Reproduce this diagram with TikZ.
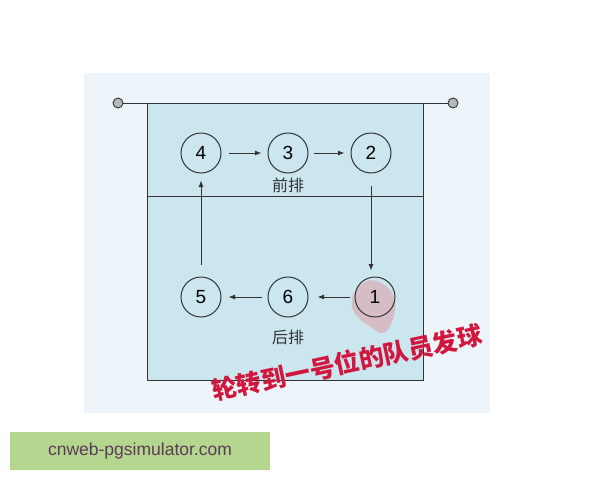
\documentclass[tikz,border=0pt]{standalone}
\usepackage{fontspec}
\setmainfont{Liberation Sans}
\newfontfamily\cjk{Noto Sans CJK SC}
\newfontfamily\cjkheavy{Noto Sans CJK SC Black}
\usetikzlibrary{arrows.meta,positioning}

\definecolor{panel}{HTML}{EDF5FA}
\definecolor{courtblue}{HTML}{CBE6EE}
\definecolor{linegray}{HTML}{333333}
\definecolor{postgray}{HTML}{B4B9BC}
\definecolor{slogan}{HTML}{D2173F}
\definecolor{smudge}{HTML}{E58A95}
\definecolor{wmgreen}{HTML}{B5D68E}
\definecolor{wmtext}{HTML}{5B3A58}

\tikzset{
	player/.style={circle, draw=linegray, line width=1pt, minimum size=40pt, inner sep=0pt, font=\fontsize{19}{19}\selectfont},
	flow/.style={-{Latex[length=6.5pt,width=5pt]}, draw=linegray, line width=0.9pt},
	rowlabel/.style={font=\cjk\fontsize{16}{16}\selectfont, text=linegray},
	post/.style={circle, draw=linegray, fill=postgray, line width=0.9pt, minimum size=10pt, inner sep=0pt}
}

\begin{document}
\begin{tikzpicture}[x=1pt,y=-1pt]
	\useasboundingbox (0,0) rectangle (600,480);
	\fill[white] (0,0) rectangle (600,480);
	\fill[panel] (84,73) rectangle (490,413);
	% court and net
	\draw[fill=courtblue, draw=linegray, line width=0.9pt] (147,103) rectangle (423,380);
	\draw[linegray, line width=0.9pt] (147,196) -- (423,196);
	\node[post] (postL) at (118,103) {};
	\node[post] (postR) at (453,103) {};
	\draw[linegray, line width=0.9pt] (postL) -- (postR);
	% smudge round 1
	\fill[smudge, opacity=0.45] (370,280) .. controls (392,282) and (398,300) .. (394,316)
		.. controls (390,330) and (384,336) .. (378,332)
		.. controls (368,324) and (356,320) .. (352,308)
		.. controls (350,294) and (358,284) .. (370,280);
	% players
	\node[player] (p4) at (201,153) {4};
	\node[player] (p3) at (288,153) {3};
	\node[player] (p2) at (371,153) {2};
	\node[player] (p5) at (201,297) {5};
	\node[player] (p6) at (288,297) {6};
	\node[player] (p1) at (375,297) {1};
	\node[rowlabel] (front) at (288,185) {前排};
	\node[rowlabel] (back) at (288,337) {后排};
	% rotation
	\draw[flow, shorten <=7pt, shorten >=6pt] (p4) -- (p3);
	\draw[flow, shorten <=5pt, shorten >=6pt] (p3) -- (p2);
	\draw[flow, shorten <=12pt, shorten >=6pt] (p2.south) -- (p2.south |- p1.north);
	\draw[flow, shorten <=5pt, shorten >=9pt] (p1) -- (p6);
	\draw[flow, shorten <=6pt, shorten >=7pt] (p6) -- (p5);
	\draw[flow, shorten <=12pt, shorten >=7pt] (p5.north) -- (p4.south);
	% caption
	\node[rotate=12, text=slogan, font=\cjkheavy\fontsize{25}{25}\selectfont] (caption) at (347,363) {轮转到一号位的队员发球};
	% watermark
	\fill[wmgreen] (10,432) rectangle (270,470);
	\node[text=wmtext, font=\fontsize{17.5}{17.5}\selectfont] (site) at (140,451) {cnweb-pgsimulator.com};
\end{tikzpicture}
\end{document}
